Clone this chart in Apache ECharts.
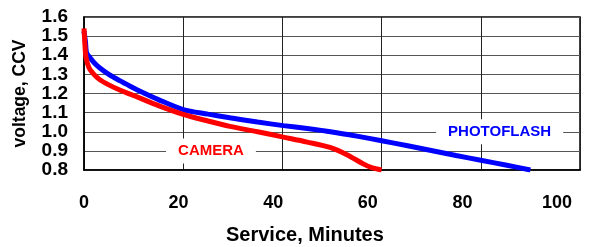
<!DOCTYPE html>
<html><head><meta charset="utf-8">
<script src="https://cdn.jsdelivr.net/npm/echarts@6/dist/echarts.min.js"></script>
<style>html,body{margin:0;padding:0;background:#fff}#c{width:606px;height:247px}</style>
</head><body><div id="c"></div>
<script>
var xTicks = [0, 20, 40, 60, 80, 100];
var yTicks = [0.8, 0.9, 1.0, 1.1, 1.2, 1.3, 1.4, 1.5, 1.6];
var cameraMinutes = [0, 0.2, 0.4, 1, 2, 3.2, 5, 7.2, 9.3, 11.2, 15, 20, 25, 29.4, 35, 40, 45, 49.6, 53, 56.3, 58, 60];
var cameraVolts   = [1.54, 1.45, 1.39, 1.335, 1.30, 1.272, 1.245, 1.218, 1.197, 1.177, 1.137, 1.091, 1.056, 1.028, 1.0, 0.973, 0.946, 0.918, 0.88, 0.832, 0.812, 0.8];
var photoMinutes = [0, 0.3, 0.5, 1.15, 2, 3.2, 5, 7.2, 9.3, 11.2, 15, 20, 25, 29.4, 35, 40.2, 45, 50, 55, 60, 65, 70, 75, 80, 85, 90];
var photoVolts   = [1.525, 1.47, 1.415, 1.389, 1.362, 1.333, 1.30, 1.267, 1.238, 1.213, 1.168, 1.116, 1.092, 1.073, 1.051, 1.032, 1.017, 0.999, 0.977, 0.953, 0.928, 0.902, 0.876, 0.851, 0.826, 0.8];
var cameraLabel = {name: 'CAMERA', x: 25.6, y: 0.9};
var photoLabel = {name: 'PHOTOFLASH', x: 83.8, y: 1.0};
var xTitle = 'Service, Minutes';
var yTitle = 'voltage, CCV';

function pairs(xs, ys){ return xs.map(function(x,i){ return [x, ys[i]]; }); }
var font = 'Arial, "Liberation Sans", sans-serif';
function mk(lbl, color){
  return {
    symbol: 'rect', symbolSize: 0,
    data: [{coord: [lbl.x, lbl.y]}],
    label: {show: true, position: 'inside', formatter: lbl.name, color: color,
      fontFamily: font, fontWeight: 'bold', fontSize: 15,
      backgroundColor: '#fff', padding: [5, 12, 5, 12]}
  };
}
var chart = echarts.init(document.getElementById('c'), null, {renderer: 'canvas'});
chart.setOption({
  animation: false,
  title: {text: xTitle, left: 221, top: 220,
    textStyle: {fontFamily: font, fontWeight: 'bold', fontSize: 20, color: '#000'}},
  grid: {left: 84, right: 26, top: 17, bottom: 77, show: true, borderColor: '#000', borderWidth: 1.5},
  xAxis: [{
    type: 'value', min: 0, max: 100, interval: 20,
    axisLine: {show: true, lineStyle: {color: '#000', width: 1.5}},
    axisTick: {show: false},
    axisLabel: {show: false},
    splitLine: {show: true, lineStyle: {color: '#222', width: 1}}
  }, {
    type: 'value', min: 0, max: 104.84, interval: 20, position: 'bottom',
    axisLine: {show: false}, axisTick: {show: false}, splitLine: {show: false},
    axisLabel: {margin: 24, fontFamily: font, fontWeight: 'bold', fontSize: 18, color: '#000',
      showMaxLabel: false,
      formatter: function(v){ return xTicks.indexOf(v) >= 0 ? String(v) : ''; }}
  }],
  yAxis: {
    type: 'value', min: 0.8, max: 1.6, interval: 0.1,
    name: yTitle, nameLocation: 'middle', nameGap: 55,
    nameTextStyle: {fontFamily: font, fontWeight: 'bold', fontSize: 17.5, color: '#000'},
    axisLine: {show: true, lineStyle: {color: '#000', width: 1.5}},
    axisTick: {show: false},
    axisLabel: {margin: 16, fontFamily: font, fontWeight: 'bold', fontSize: 19, color: '#000',
      formatter: function(v){ return v.toFixed(1); }},
    splitLine: {show: true, lineStyle: {color: '#555', width: 1.2}}
  },
  series: [
    {type: 'line', data: pairs(photoMinutes, photoVolts), showSymbol: false, smooth: 0.3,
     xAxisIndex: 0, lineStyle: {color: '#0000ff', width: 5}, z: 3, markPoint: mk(photoLabel, '#0000ff')},
    {type: 'line', data: pairs(cameraMinutes, cameraVolts), showSymbol: false, smooth: 0.3,
     xAxisIndex: 0, lineStyle: {color: '#ff0000', width: 5}, z: 4, markPoint: mk(cameraLabel, '#ff0000')}
  ]
});
</script></body></html>
